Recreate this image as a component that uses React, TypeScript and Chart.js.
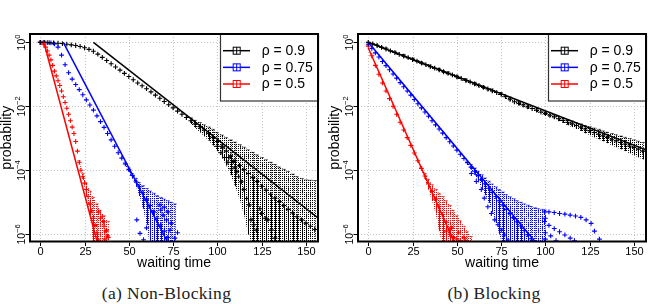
import React, { useEffect, useRef } from "react";
import { Chart, registerables } from "chart.js";

Chart.register(...registerables);

// ---------- labels ----------
const xTickValues = [0, 25, 50, 75, 100, 125, 150];
const yTickExponents = [0, -2, -4, -6];
const legendLabels = ["ρ = 0.9", "ρ = 0.75", "ρ = 0.5"];
const seriesColors = ["#000000", "#0000ff", "#ff0000"];
const panelCaptions = ["(a) Non-Blocking", "(b) Blocking"];
const xAxisTitle = "waiting time";
const yAxisTitle = "probability";

// ---------- data (probabilities given as log10 values) ----------
// Non-Blocking, rho = 0.9
const nbBlackX = [0, 2.5, 5, 7.5, 10, 12.5, 15, 17.5, 20, 22.5, 25, 27.5, 30, 32.5, 35, 37.5, 40, 42.5, 45, 47.5, 50, 52.5, 55, 57.5, 60, 62.5, 65, 67.5, 70, 72.5, 75, 77.5, 80, 82.5, 85, 87.5, 90, 92.5, 95, 97.5, 100, 102.5, 105, 107.5, 110, 112.5, 115, 117.5, 120, 122.5, 125, 127.5, 130, 132.5, 135, 137.5, 140, 142.5, 145, 147.5, 150];
const nbBlackLog = [0, 0, -0.01, -0.02, -0.03, -0.04, -0.06, -0.08, -0.1, -0.13, -0.17, -0.22, -0.28, -0.37, -0.47, -0.57, -0.67, -0.77, -0.87, -0.97, -1.07, -1.17, -1.27, -1.36, -1.45, -1.55, -1.65, -1.75, -1.85, -1.95, -2.05, -2.15, -2.25, -2.35, -2.45, -2.55, -2.64, -2.74, -2.85, -2.97, -3.1, -3.25, -3.4, -3.55, -3.7, -3.85, -3.98, -4.1, -4.22, -4.35, -4.5, -4.62, -4.75, -4.87, -4.98, -5.1, -5.22, -5.33, -5.45, -5.55, -5.65];
const nbBlackErrX = [85, 87.5, 90, 92.5, 95, 97.5, 100, 102.5, 105, 107.5, 110, 112.5, 115, 117.5, 120, 122.5, 125, 127.5, 130, 132.5, 135, 137.5, 140, 142.5, 145, 147.5, 150, 152.5, 155];
const nbBlackErrHi = [-2.36, -2.44, -2.51, -2.58, -2.65, -2.72, -2.82, -2.9, -2.98, -3.05, -3.12, -3.2, -3.28, -3.36, -3.44, -3.52, -3.6, -3.67, -3.75, -3.82, -3.9, -3.97, -4.04, -4.12, -4.2, -4.26, -4.3, -4.31, -4.32];
const nbBlackErrLo = [-2.55, -2.67, -2.8, -2.93, -3.07, -3.22, -3.4, -3.6, -3.85, -4.15, -4.5, -4.9, -5.4, -6.0, -7, -7, -7, -7, -7, -7, -7, -7, -7, -7, -7, -7, -7, -7, -7];
const nbBlackOutX = [100, 102, 104, 106, 108, 109, 111, 112, 113.5, 115, 116.5, 118, 119, 120.5, 122, 124, 125, 127, 128.5, 130.5, 132.5, 103, 106.5, 110, 152.5, 155];
const nbBlackOutLog = [-3.25, -3.45, -3.6, -3.75, -3.95, -3.73, -4.04, -4.2, -4.36, -4.6, -4.88, -5.08, -5.55, -5.7, -5.87, -5.2, -5.35, -5.5, -5.55, -5.87, -6.12, -3.3, -3.6, -3.9, -5.75, -5.85];
const nbBlackFitX = [30, 156.8];
const nbBlackFitLog = [0, -5.49];

// Non-Blocking, rho = 0.75
const nbBlueX = [0, 2, 4, 6, 8, 10, 12, 14, 16, 18, 20, 22, 24, 26, 28, 30, 32, 34, 36, 38, 40, 42, 44, 46, 48, 50, 52, 54, 56, 58, 60, 62, 64, 66, 68, 70, 72, 74];
const nbBlueLog = [0, 0, -0.01, -0.02, -0.05, -0.15, -0.4, -0.7, -0.95, -1.15, -1.32, -1.48, -1.64, -1.8, -1.96, -2.12, -2.3, -2.48, -2.66, -2.85, -3.05, -3.25, -3.45, -3.62, -3.8, -3.98, -4.16, -4.34, -4.52, -4.7, -4.9, -5.1, -5.3, -5.5, -5.7, -5.9, -6.1, -6.3];
const nbBlueErrX = [48, 50, 52, 54, 56, 58, 60, 62, 64, 66, 68, 70, 72, 74, 76];
const nbBlueErrHi = [-3.75, -3.93, -4.1, -4.25, -4.38, -4.48, -4.57, -4.65, -4.72, -4.79, -4.85, -4.9, -4.95, -5.0, -5.05];
const nbBlueErrLo = [-3.85, -4.05, -4.25, -4.5, -4.8, -5.2, -5.7, -7, -7, -7, -7, -7, -7, -7, -7];
const nbBlueOutX = [54.5, 56.3, 58.3, 60, 67.5, 68, 69.4, 70, 71.3, 72, 73.2, 74, 76, 77.5];
const nbBlueOutLog = [-5.55, -5.97, -6.17, -5.8, -5.08, -5.24, -5.4, -5.15, -5.55, -5.3, -5.87, -5.65, -6.12, -5.95];
const nbBlueFitX = [13, 73];
const nbBlueFitLog = [0, -6.36];

// Non-Blocking, rho = 0.5
const nbRedX = [0, 1, 2, 3, 4, 5, 6, 7, 8, 9, 10, 11, 12, 13, 14, 15, 16, 17, 18, 19, 20, 21, 22, 23, 24, 25, 26, 27, 28, 29, 30, 31, 32, 33];
const nbRedLog = [0, -0.02, -0.06, -0.15, -0.27, -0.4, -0.55, -0.72, -0.9, -1.05, -1.2, -1.35, -1.52, -1.7, -1.88, -2.06, -2.25, -2.45, -2.65, -2.85, -3.1, -3.4, -3.75, -4.0, -4.2, -4.4, -4.6, -4.82, -5.05, -5.27, -5.5, -5.72, -5.95, -6.18];
const nbRedErrX = [22, 24, 26, 28, 30, 32, 34, 36, 38];
const nbRedErrHi = [-3.7, -4.1, -4.4, -4.65, -4.85, -5.05, -5.25, -5.42, -5.6];
const nbRedErrLo = [-3.8, -4.3, -4.8, -5.4, -7, -7, -7, -7, -7];
const nbRedOutX = [33, 34, 35, 35.6, 36, 37, 37.4, 38, 38.4, 36.5];
const nbRedOutLog = [-5.3, -5.5, -5.45, -5.6, -5.75, -5.9, -5.87, -6.05, -6.1, -6.15];
const nbRedFitX = [2, 32.3];
const nbRedFitLog = [0, -6.27];

// Blocking, rho = 0.9
const bBlackX = [0, 2.5, 5, 7.5, 10, 12.5, 15, 17.5, 20, 22.5, 25, 27.5, 30, 32.5, 35, 37.5, 40, 42.5, 45, 47.5, 50, 52.5, 55, 57.5, 60, 62.5, 65, 67.5, 70, 72.5, 75, 77.5, 80, 82.5, 85, 87.5, 90, 92.5, 95, 97.5, 100, 102.5, 105, 107.5, 110, 112.5, 115, 117.5, 120, 122.5, 125, 127.5, 130, 132.5, 135, 137.5, 140, 142.5, 145, 147.5, 150, 152.5, 155];
const bBlackLog = [0, -0.05, -0.1, -0.16, -0.21, -0.27, -0.32, -0.38, -0.43, -0.48, -0.54, -0.59, -0.65, -0.7, -0.76, -0.81, -0.86, -0.92, -0.97, -1.02, -1.08, -1.13, -1.19, -1.24, -1.3, -1.35, -1.41, -1.46, -1.52, -1.57, -1.63, -1.7, -1.78, -1.86, -1.91, -1.96, -2.02, -2.07, -2.12, -2.18, -2.23, -2.28, -2.33, -2.39, -2.44, -2.5, -2.55, -2.6, -2.65, -2.71, -2.76, -2.82, -2.87, -2.92, -2.97, -3.03, -3.08, -3.13, -3.18, -3.24, -3.29, -3.34, -3.4];
const bBlackErrX = [0, 5, 10, 15, 20, 25, 30, 35, 40, 45, 50, 55, 60, 65, 70, 75, 80, 85, 90, 95, 100, 105, 107.5, 110, 112.5, 115, 117.5, 120, 122.5, 125, 127.5, 130, 132.5, 135, 137.5, 140, 142.5, 145, 147.5, 150, 152.5, 155];
const bBlackErrHi = [-0.0, -0.07, -0.17, -0.28, -0.38, -0.49, -0.6, -0.71, -0.81, -0.92, -1.03, -1.14, -1.25, -1.36, -1.46, -1.57, -1.71, -1.85, -1.96, -2.06, -2.17, -2.27, -2.32, -2.37, -2.42, -2.46, -2.51, -2.55, -2.6, -2.64, -2.68, -2.72, -2.77, -2.81, -2.85, -2.89, -2.93, -2.97, -3.01, -3.05, -3.09, -3.13];
const bBlackErrLo = [-0.03, -0.13, -0.24, -0.36, -0.47, -0.58, -0.69, -0.8, -0.91, -1.02, -1.13, -1.24, -1.35, -1.46, -1.57, -1.68, -1.84, -1.97, -2.08, -2.18, -2.29, -2.39, -2.46, -2.52, -2.59, -2.65, -2.71, -2.77, -2.84, -2.9, -2.97, -3.03, -3.09, -3.15, -3.22, -3.28, -3.34, -3.4, -3.47, -3.53, -3.59, -3.66];
const bBlackOutX: number[] = [];
const bBlackOutLog: number[] = [];
const bBlackFitX = [0, 156.8];
const bBlackFitLog = [0, -3.36];

// Blocking, rho = 0.75
const bBlueX = [0, 2, 4, 6, 8, 10, 12, 14, 16, 18, 20, 22, 24, 26, 28, 30, 32, 34, 36, 38, 40, 42, 44, 46, 48, 50, 52, 54, 56, 58, 60, 62, 64, 66, 68, 70, 72, 74, 76, 78, 80, 82, 84, 86, 88, 90, 92, 94];
const bBlueLog = [-0.06, -0.19, -0.33, -0.46, -0.6, -0.73, -0.86, -0.99, -1.12, -1.26, -1.39, -1.52, -1.65, -1.79, -1.92, -2.05, -2.18, -2.31, -2.45, -2.58, -2.71, -2.84, -2.98, -3.11, -3.24, -3.37, -3.5, -3.63, -3.76, -3.9, -4.03, -4.16, -4.29, -4.42, -4.56, -4.69, -4.82, -4.95, -5.08, -5.22, -5.35, -5.48, -5.61, -5.74, -5.88, -6.01, -6.14, -6.27];
const bBlueErrX = [56, 58, 60, 62, 64, 66, 68, 70, 72, 74, 76, 78, 80, 82, 84, 86, 88, 90, 92, 94, 96, 98, 100];
const bBlueErrHi = [-3.72, -3.82, -3.93, -4.03, -4.14, -4.24, -4.34, -4.43, -4.52, -4.6, -4.68, -4.76, -4.83, -4.89, -4.95, -5.0, -5.05, -5.09, -5.13, -5.17, -5.2, -5.22, -5.24];
const bBlueErrLo = [-3.8, -3.98, -4.15, -4.35, -4.55, -4.78, -5.02, -5.3, -5.62, -6.0, -7, -7, -7, -7, -7, -7, -7, -7, -7, -7, -7, -7, -7];
const bBlueOutX = [58.2, 61, 63.8, 65.5, 67.5, 69.5, 71.4, 73.2, 75.1, 77, 78.9, 99.5, 102, 105, 108, 111, 114, 117, 120, 123, 125.8, 127.7, 130.5, 99.5, 102, 105, 108, 111, 114, 116.4, 100, 100, 103, 106, 100];
const bBlueOutLog = [-4.1, -4.35, -4.6, -4.87, -5.14, -5.35, -5.55, -5.7, -5.87, -6.02, -6.18, -5.3, -5.3, -5.32, -5.35, -5.37, -5.4, -5.43, -5.47, -5.55, -5.66, -5.9, -6.15, -5.6, -5.72, -5.82, -5.92, -6.02, -6.12, -6.2, -5.5, -5.95, -6.05, -6.2, -6.15];
const bBlueFitX = [0, 94.5];
const bBlueFitLog = [0, -6.25];

// Blocking, rho = 0.5
const bRedX = [0, 2, 4, 6, 8, 10, 12, 14, 16, 18, 20, 22, 24, 26, 28, 30, 32, 34, 36, 38, 40, 42, 44, 46, 48, 50];
const bRedLog = [-0.12, -0.42, -0.72, -1.0, -1.27, -1.52, -1.76, -2.0, -2.25, -2.5, -2.74, -2.98, -3.22, -3.46, -3.7, -3.94, -4.18, -4.42, -4.66, -4.9, -5.14, -5.38, -5.62, -5.86, -6.1, -6.34];
const bRedErrX = [30, 32, 34, 36, 38, 40, 42, 44, 46, 48, 50, 52, 54, 56, 58];
const bRedErrHi = [-3.9, -4.1, -4.28, -4.45, -4.6, -4.72, -4.82, -4.95, -5.1, -5.25, -5.42, -5.58, -5.75, -5.92, -6.07];
const bRedErrLo = [-4.0, -4.3, -4.6, -4.95, -5.35, -5.9, -7, -7, -7, -7, -7, -7, -7, -7, -7];
const bRedOutX = [44, 46, 47, 48, 50, 51, 52, 54, 55];
const bRedOutLog = [-5.9, -6.0, -5.8, -6.1, -6.15, -5.95, -6.2, -6.1, -6.2];
const bRedFitX = [0, 50];
const bRedFitLog = [-0.18, -6.43];

// ---------- structures ----------
type Series = {
  color: string;
  x: number[];
  log: number[];
  errX: number[];
  errHi: number[];
  errLo: number[];
  outX: number[];
  outLog: number[];
  fitX: number[];
  fitLog: number[];
};

const nonBlockingSeries: Series[] = [
  { color: seriesColors[0], x: nbBlackX, log: nbBlackLog, errX: nbBlackErrX, errHi: nbBlackErrHi, errLo: nbBlackErrLo, outX: nbBlackOutX, outLog: nbBlackOutLog, fitX: nbBlackFitX, fitLog: nbBlackFitLog },
  { color: seriesColors[1], x: nbBlueX, log: nbBlueLog, errX: nbBlueErrX, errHi: nbBlueErrHi, errLo: nbBlueErrLo, outX: nbBlueOutX, outLog: nbBlueOutLog, fitX: nbBlueFitX, fitLog: nbBlueFitLog },
  { color: seriesColors[2], x: nbRedX, log: nbRedLog, errX: nbRedErrX, errHi: nbRedErrHi, errLo: nbRedErrLo, outX: nbRedOutX, outLog: nbRedOutLog, fitX: nbRedFitX, fitLog: nbRedFitLog },
];

const blockingSeries: Series[] = [
  { color: seriesColors[0], x: bBlackX, log: bBlackLog, errX: bBlackErrX, errHi: bBlackErrHi, errLo: bBlackErrLo, outX: bBlackOutX, outLog: bBlackOutLog, fitX: bBlackFitX, fitLog: bBlackFitLog },
  { color: seriesColors[1], x: bBlueX, log: bBlueLog, errX: bBlueErrX, errHi: bBlueErrHi, errLo: bBlueErrLo, outX: bBlueOutX, outLog: bBlueOutLog, fitX: bBlueFitX, fitLog: bBlueFitLog },
  { color: seriesColors[2], x: bRedX, log: bRedLog, errX: bRedErrX, errHi: bRedErrHi, errLo: bRedErrLo, outX: bRedOutX, outLog: bRedOutLog, fitX: bRedFitX, fitLog: bRedFitLog },
];

const toPoints = (xs: number[], logs: number[]) => {
  const n = Math.min(xs.length, logs.length);
  const pts: { x: number; y: number }[] = [];
  for (let i = 0; i < n; i++) pts.push({ x: xs[i], y: Math.pow(10, logs[i]) });
  return pts;
};

const SANS = '"Liberation Sans", Arial, Helvetica, sans-serif';
const CANVAS_H = 275;
const AREA = { left: 30, top: 34, right: 318, bottom: 241.5 };

function dotPattern(ctx: CanvasRenderingContext2D, color: string) {
  const c = document.createElement("canvas");
  c.width = 2;
  c.height = 2;
  const g = c.getContext("2d")!;
  g.fillStyle = color;
  g.fillRect(0, 0, 1, 1);
  return ctx.createPattern(c, "repeat");
}

function Panel({ series, left, width }: { series: Series[]; left: number; width: number }) {
  const ref = useRef<HTMLCanvasElement>(null);

  useEffect(() => {
    const canvas = ref.current;
    if (!canvas) return;

    const decor = {
      id: "panelDecor",
      beforeDatasetsDraw(chart: any) {
        const ctx = chart.ctx as CanvasRenderingContext2D;
        const a = chart.chartArea;
        const xs = chart.scales.x;
        const ys = chart.scales.y;
        ctx.save();
        // grid
        ctx.strokeStyle = "#c4c4c4";
        ctx.lineWidth = 1;
        ctx.setLineDash([1, 2]);
        xTickValues.forEach((v) => {
          const px = Math.round(xs.getPixelForValue(v)) + 0.5;
          ctx.beginPath();
          ctx.moveTo(px, a.top);
          ctx.lineTo(px, a.bottom);
          ctx.stroke();
        });
        yTickExponents.forEach((e) => {
          const py = Math.round(ys.getPixelForValue(Math.pow(10, e))) + 0.5;
          ctx.beginPath();
          ctx.moveTo(a.left, py);
          ctx.lineTo(a.right, py);
          ctx.stroke();
        });
        // error bands and bars
        ctx.beginPath();
        ctx.rect(a.left, a.top, a.right - a.left, a.bottom - a.top);
        ctx.clip();
        series.forEach((s) => {
          const meanMap = new Map<number, number>();
          s.x.forEach((xv, i) => meanMap.set(xv, s.log[i]));
          const n = s.errX.length;
          if (n > 1) {
            const pat = dotPattern(ctx, s.color);
            if (pat) {
              ctx.fillStyle = pat;
              ctx.beginPath();
              for (let i = 0; i < n; i++) {
                const px = xs.getPixelForValue(s.errX[i]);
                const py = ys.getPixelForValue(Math.pow(10, s.errHi[i]));
                if (i === 0) ctx.moveTo(px, py);
                else ctx.lineTo(px, py);
              }
              for (let i = n - 1; i >= 0; i--) {
                const px = xs.getPixelForValue(s.errX[i]);
                const py = ys.getPixelForValue(Math.pow(10, s.errLo[i]));
                ctx.lineTo(px, Math.min(py, a.bottom + 5));
              }
              ctx.closePath();
              ctx.fill();
            }
          }
          ctx.strokeStyle = s.color;
          ctx.lineWidth = 1;
          for (let i = 0; i < n; i++) {
            const px = Math.round(xs.getPixelForValue(s.errX[i])) + 0.5;
            const pHi = ys.getPixelForValue(Math.pow(10, s.errHi[i]));
            const pLo = ys.getPixelForValue(Math.pow(10, s.errLo[i]));
            ctx.setLineDash([1, 1.5]);
            ctx.beginPath();
            ctx.moveTo(px, pHi);
            ctx.lineTo(px, pLo);
            ctx.stroke();
            ctx.setLineDash([1, 1]);
            ctx.beginPath();
            ctx.moveTo(px - 2, pHi);
            ctx.lineTo(px + 2, pHi);
            ctx.stroke();
            const m = meanMap.get(s.errX[i]);
            if (m !== undefined) {
              const pm = ys.getPixelForValue(Math.pow(10, m));
              ctx.setLineDash([]);
              ctx.beginPath();
              ctx.moveTo(px, pm);
              ctx.lineTo(px, pLo);
              ctx.stroke();
            }
          }
        });
        ctx.restore();
      },
      afterDatasetsDraw(chart: any) {
        const ctx = chart.ctx as CanvasRenderingContext2D;
        const a = chart.chartArea;
        const xs = chart.scales.x;
        const ys = chart.scales.y;
        ctx.save();
        ctx.setLineDash([]);
        // legend
        const lgLeft = a.right - 98;
        const lgBottom = a.top + 67;
        ctx.fillStyle = "#ffffff";
        ctx.fillRect(lgLeft, a.top, a.right - lgLeft, lgBottom - a.top);
        ctx.strokeStyle = "#333333";
        ctx.lineWidth = 1.2;
        ctx.strokeRect(lgLeft + 0.5, a.top, a.right - lgLeft, lgBottom - a.top);
        legendLabels.forEach((lab, i) => {
          const cy = a.top + 16.7 + i * 16.65;
          const col = seriesColors[i];
          ctx.strokeStyle = col;
          ctx.lineWidth = 1.5;
          ctx.beginPath();
          ctx.moveTo(lgLeft + 3, cy);
          ctx.lineTo(lgLeft + 30, cy);
          ctx.stroke();
          const mx = lgLeft + 16.7;
          ctx.lineWidth = 1;
          ctx.fillStyle = "#ffffff";
          ctx.fillRect(mx - 3.5, cy - 3.5, 7, 7);
          ctx.strokeRect(mx - 3.5, cy - 3.5, 7, 7);
          ctx.beginPath();
          ctx.moveTo(mx, cy - 3.5);
          ctx.lineTo(mx, cy + 3.5);
          ctx.moveTo(mx - 3.5, cy);
          ctx.lineTo(mx + 3.5, cy);
          ctx.stroke();
          ctx.fillStyle = "#000000";
          ctx.font = `14px ${SANS}`;
          ctx.textAlign = "left";
          ctx.textBaseline = "middle";
          ctx.fillText(lab, lgLeft + 41.7, cy + 0.5);
        });
        // plot border
        ctx.strokeStyle = "#000000";
        ctx.lineWidth = 2;
        ctx.strokeRect(a.left, a.top, a.right - a.left, a.bottom - a.top);
        // ticks and tick labels
        ctx.lineWidth = 1;
        ctx.fillStyle = "#000000";
        ctx.font = `11px ${SANS}`;
        ctx.textAlign = "center";
        ctx.textBaseline = "alphabetic";
        xTickValues.forEach((v) => {
          const px = Math.round(xs.getPixelForValue(v)) + 0.5;
          ctx.beginPath();
          ctx.moveTo(px, a.bottom + 1);
          ctx.lineTo(px, a.bottom + 4.5);
          ctx.stroke();
          ctx.fillText(String(v), px, 254.5);
        });
        yTickExponents.forEach((e) => {
          const py = Math.round(ys.getPixelForValue(Math.pow(10, e))) + 0.5;
          ctx.beginPath();
          ctx.moveTo(a.left - 4.5, py);
          ctx.lineTo(a.left - 1, py);
          ctx.stroke();
          const base = "10";
          const sup = e === 0 ? "0" : "\u2212" + Math.abs(e);
          ctx.save();
          ctx.translate(24.5, py);
          ctx.rotate(-Math.PI / 2);
          ctx.font = `10.5px ${SANS}`;
          const wb = ctx.measureText(base).width;
          ctx.font = `7.5px ${SANS}`;
          const ws = ctx.measureText(sup).width;
          const start = -(wb + ws) / 2;
          ctx.textAlign = "left";
          ctx.textBaseline = "alphabetic";
          ctx.font = `10.5px ${SANS}`;
          ctx.fillText(base, start, 0);
          ctx.font = `7.5px ${SANS}`;
          ctx.fillText(sup, start + wb, -4.5);
          ctx.restore();
        });
        // axis titles
        ctx.font = `14px ${SANS}`;
        ctx.textAlign = "center";
        ctx.textBaseline = "alphabetic";
        ctx.fillText(xAxisTitle, (a.left + a.right) / 2, 267);
        ctx.save();
        ctx.translate(10.5, (a.top + a.bottom) / 2);
        ctx.rotate(-Math.PI / 2);
        ctx.fillText(yAxisTitle, 0, 0);
        ctx.restore();
        ctx.restore();
      },
    };

    const datasets: any[] = [];
    series.forEach((s) => {
      datasets.push({
        data: toPoints(s.fitX, s.fitLog),
        showLine: true,
        borderColor: s.color,
        backgroundColor: s.color,
        borderWidth: 1.5,
        pointRadius: 0,
      });
    });
    series.forEach((s) => {
      datasets.push({
        data: [...toPoints(s.x, s.log), ...toPoints(s.outX, s.outLog)],
        showLine: false,
        pointStyle: "cross",
        pointRadius: 2.4,
        borderWidth: 1.1,
        borderColor: s.color,
        backgroundColor: s.color,
      });
    });

    const chart = new Chart(canvas, {
      type: "scatter",
      data: { datasets },
      options: {
        responsive: false,
        maintainAspectRatio: false,
        animation: false,
        events: [],
        layout: {
          padding: {
            left: AREA.left,
            top: AREA.top,
            right: width - AREA.right,
            bottom: CANVAS_H - AREA.bottom,
          },
        },
        plugins: { legend: { display: false }, tooltip: { enabled: false } },
        scales: {
          x: { type: "linear", min: -5.8, max: 156.8, display: false },
          y: { type: "logarithmic", min: Math.pow(10, -6.225), max: Math.pow(10, 0.259), display: false },
        },
      } as any,
      plugins: [decor as any],
    });
    return () => chart.destroy();
  }, [series, width]);

  return (
    <canvas
      ref={ref}
      width={width}
      height={CANVAS_H}
      style={{ position: "absolute", left, top: 0, width, height: CANVAS_H }}
    />
  );
}

const captionStyle: React.CSSProperties = {
  position: "absolute",
  top: 283,
  height: 20,
  lineHeight: "20px",
  fontFamily: '"Liberation Serif", "Times New Roman", serif',
  fontSize: 17.5,
  letterSpacing: "0.35px",
  textAlign: "center",
  color: "#222",
  whiteSpace: "nowrap",
};

export default function App() {
  return (
    <div style={{ position: "fixed", left: 0, top: 0, width: 657, height: 304, background: "#ffffff", overflow: "hidden" }}>
      <Panel series={nonBlockingSeries} left={0} width={328} />
      <Panel series={blockingSeries} left={328} width={329} />
      <div style={{ ...captionStyle, left: 0, width: 333 }}>{panelCaptions[0]}</div>
      <div style={{ ...captionStyle, left: 328, width: 332 }}>{panelCaptions[1]}</div>
    </div>
  );
}
